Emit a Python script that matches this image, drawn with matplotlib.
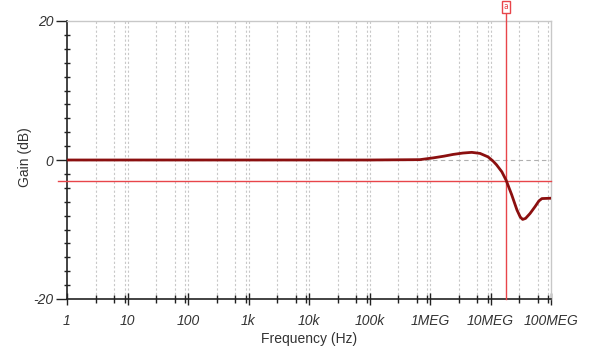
import matplotlib
matplotlib.use("Agg")
import matplotlib.pyplot as plt
import matplotlib.transforms as mtransforms
import numpy as np

plt.rcParams["axes.unicode_minus"] = False

# Data
freq_hz = [1, 10, 100, 1e3, 1e4, 1e5, 6.8e5, 1.12e6, 1.7e6, 2.4e6, 3.5e6, 4.9e6, 6.7e6, 9.1e6,
           11e6, 12.6e6, 15.4e6, 18.1e6, 22.4e6, 27.4e6, 31e6, 34e6, 38e6, 45e6, 54.6e6, 63e6, 70.7e6, 100e6]
gain_db = [0.0, 0.0, 0.0, 0.0, 0.0, 0.0, 0.05, 0.3, 0.55, 0.8, 1.0, 1.1, 0.95, 0.45,
           -0.15, -0.7, -1.7, -2.9, -5.0, -7.2, -8.2, -8.55, -8.4, -7.7, -6.7, -5.9, -5.55, -5.5]
cursor_freq = 18.1e6
cursor_level_db = -3.0
cursor_label = "a"

major_ticks = [1, 10, 100, 1e3, 1e4, 1e5, 1e6, 1e7, 1e8]
major_labels = ["1", "10", "100", "1k", "10k", "100k", "1MEG", "10MEG", "100MEG"]
minor_mult = [3, 6, 9]
y_ticks = [-20, 0, 20]

fig = plt.figure(figsize=(6.07, 3.51), dpi=100)
ax = fig.add_axes([67/607, 1-299/351, (551-67)/607, (299-21)/351])
ax.set_xscale("log")
ax.set_xlim(1, 1e8)
ax.set_ylim(-20, 20)

minor_ticks = [d*m for d in major_ticks[:-1] for m in minor_mult]

# grid
for f in minor_ticks + major_ticks[1:-1]:
    ax.axvline(f, color="#c8c8c8", lw=0.8, ls=(0, (2, 2)), zorder=1)
ax.axhline(0, color="#b0b0b0", lw=0.8, ls=(0, (4, 3)), zorder=1)

ax.plot(freq_hz, gain_db, color="#8b0f0f", lw=2.0, zorder=4, solid_joinstyle="round")

# cursor lines
cur_col = "#e8454a"
trans = mtransforms.blended_transform_factory(ax.transAxes, ax.transData)
ax.plot([-0.019, 1.0], [cursor_level_db, cursor_level_db], color=cur_col, lw=1.0,
        transform=trans, clip_on=False, zorder=3)
trans2 = mtransforms.blended_transform_factory(ax.transData, ax.transAxes)
ax.plot([cursor_freq, cursor_freq], [0, 1.025], color=cur_col, lw=1.0,
        transform=trans2, clip_on=False, zorder=3)
ax.text(cursor_freq, 1.052, cursor_label, transform=trans2, ha="center", va="center",
        fontsize=5.5, color=cur_col,
        bbox=dict(boxstyle="square,pad=0.2", fc="white", ec=cur_col, lw=1.0))

# spines
for s in ["top", "right"]:
    ax.spines[s].set_color("#c8c8c8")
    ax.spines[s].set_linewidth(1.0)
for s in ["left", "bottom"]:
    ax.spines[s].set_color("#222222")
    ax.spines[s].set_linewidth(1.2)

ax.set_xticks(major_ticks)
ax.set_xticklabels(major_labels)
ax.set_xticks(minor_ticks, minor=True)
ax.set_xticklabels([], minor=True)
ax.set_yticks(y_ticks)
ax.set_yticks(np.arange(-20, 21, 2), minor=True)

ax.tick_params(axis="x", which="major", direction="inout", length=8, width=1.0,
               colors="#222222", pad=7)
ax.tick_params(axis="x", which="minor", direction="inout", length=6, width=1.0,
               colors="#222222")
ax.tick_params(axis="y", which="major", direction="out", length=8, width=1.0,
               colors="#222222", pad=2)
ax.tick_params(axis="y", which="minor", direction="inout", length=5, width=1.0,
               colors="#222222")
for lab in ax.get_xticklabels() + ax.get_yticklabels():
    lab.set_fontstyle("italic")
    lab.set_fontsize(10)
    lab.set_color("#333333")
    lab.set_family("Liberation Sans")

ax.set_xlabel("Frequency (Hz)", fontsize=10, color="#333333", family="Liberation Sans")
ax.set_ylabel("Gain (dB)", fontsize=10, color="#333333", family="Liberation Sans")
ax.xaxis.set_label_coords(0.5, (299-332)/278)
ax.yaxis.set_label_coords((32-67)/484, 0.51)

fig.savefig("out.png", dpi=100)
